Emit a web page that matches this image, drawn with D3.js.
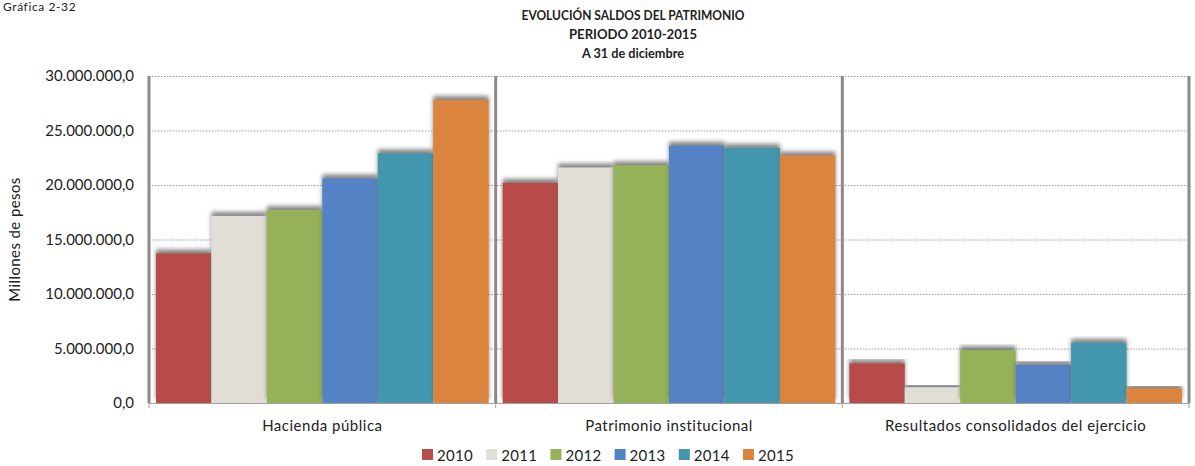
<!DOCTYPE html>
<html>
<head>
<meta charset="utf-8">
<script src="https://cdn.jsdelivr.net/npm/d3@7"></script>
<style>
  body { margin: 0; background: #fff; }
  svg text { font-family: Lato, "Open Sans", sans-serif; fill: #222; }
</style>
</head>
<body>
<div id="container"></div>
<script>
// saldos del patrimonio por año, millones de pesos

const categories = ["Hacienda pública", "Patrimonio institucional", "Resultados consolidados del ejercicio"];
const years = ["2010", "2011", "2012", "2013", "2014", "2015"];
const v2010 = [13730000, 20200000, 3640000];
const v2011 = [17160000, 21600000, 1440000];
const v2012 = [17700000, 21800000, 4860000];
const v2013 = [20600000, 23600000, 3490000];
const v2014 = [22900000, 23400000, 5530000];
const v2015 = [27800000, 22700000, 1350000];
const yTicks = [0, 5000000, 10000000, 15000000, 20000000, 25000000, 30000000];
const colors = ["#B84C4A", "#E1DFD5", "#95B258", "#5283C5", "#4297AF", "#DB843F"];

const series = [v2010, v2011, v2012, v2013, v2014, v2015];

const width = 1195, height = 466;
const margin = {left: 149, right: 6, top: 76, bottom: 63};

const svg = d3.select("#container").append("svg")
    .attr("width", width)
    .attr("height", height);

const defs = svg.append("defs");
const shadow = defs.append("filter")
    .attr("id", "shadow")
    .attr("x", "-10%").attr("y", "-10%")
    .attr("width", "120%").attr("height", "120%");
shadow.append("feDropShadow")
    .attr("dx", 0).attr("dy", -4)
    .attr("stdDeviation", 2)
    .attr("flood-color", "#666")
    .attr("flood-opacity", 0.8);

const x0 = d3.scaleBand()
    .domain(categories)
    .range([margin.left, width - margin.right])
    .paddingInner(0).paddingOuter(0);

const x1 = d3.scaleBand()
    .domain(years)
    .range([7, x0.bandwidth() - 7]);

const y = d3.scaleLinear()
    .domain([0, 30000000])
    .range([height - margin.bottom, margin.top]);

const fmt = v => d3.format(",.1f")(v).replace(/,/g, "#").replace(".", ",").replace(/#/g, ".");

// gridlines
svg.append("g")
    .selectAll("line")
    .data(yTicks.filter(d => d > 0))
    .enter().append("line")
    .attr("x1", margin.left).attr("x2", width - margin.right)
    .attr("y1", d => y(d) + 0.5).attr("y2", d => y(d) + 0.5)
    .attr("stroke", "#9a9a9a")
    .attr("stroke-dasharray", "1.5,1.5");

// bars
const groups = svg.append("g")
    .selectAll("g")
    .data(categories)
    .enter().append("g")
    .attr("transform", d => "translate(" + x0(d) + ",0)");

groups.selectAll("rect")
    .data((c, ci) => years.map((yr, i) => ({year: yr, value: series[i][ci], color: colors[i]})))
    .enter().append("rect")
    .attr("x", d => x1(d.year))
    .attr("width", x1.bandwidth())
    .attr("y", d => y(d.value))
    .attr("height", d => y(0) - y(d.value))
    .attr("fill", d => d.color)
    .attr("filter", "url(#shadow)");

// group dividers and left axis line
svg.append("g")
    .selectAll("line")
    .data(categories.map(c => x0(c)).concat([x0.range()[1]]))
    .enter().append("line")
    .attr("x1", d => d).attr("x2", d => d)
    .attr("y1", y(30000000)).attr("y2", y(0))
    .attr("stroke", "#8a8a8a")
    .attr("stroke-width", 3);

// bottom axis
const xAxis = svg.append("g");
xAxis.append("line")
    .attr("x1", margin.left).attr("x2", width - margin.right)
    .attr("y1", y(0) + 0.5).attr("y2", y(0) + 0.5)
    .attr("stroke", "#a0a0a0");
xAxis.selectAll("line.tick")
    .data(categories.map(c => x0(c)).concat([x0.range()[1]]))
    .enter().append("line")
    .attr("class", "tick")
    .attr("x1", d => d).attr("x2", d => d)
    .attr("y1", y(0)).attr("y2", y(0) + 5)
    .attr("stroke", "#a0a0a0");
xAxis.selectAll("text")
    .data(categories)
    .enter().append("text")
    .attr("x", d => x0(d) + x0.bandwidth() / 2)
    .attr("y", y(0) + 28)
    .attr("text-anchor", "middle")
    .attr("font-size", 15)
    .attr("letter-spacing", 0.5)
    .text(d => d);

// y tick labels
svg.append("g")
    .selectAll("text")
    .data(yTicks)
    .enter().append("text")
    .attr("x", 134)
    .attr("y", d => y(d) + 5)
    .attr("text-anchor", "end")
    .attr("font-size", 15)
    .text(fmt);

svg.append("text")
    .attr("transform", "translate(20," + ((y(0) + y(30000000)) / 2) + ") rotate(-90)")
    .attr("text-anchor", "middle")
    .attr("font-size", 15)
    .attr("letter-spacing", 0.4)
    .text("Millones de pesos");

// titles
svg.append("text")
    .attr("x", 3).attr("y", 11)
    .attr("font-size", 12)
    .attr("letter-spacing", 0.6)
    .text("Gráfica 2-32");

const titleLines = ["EVOLUCIÓN SALDOS DEL PATRIMONIO", "PERIODO 2010-2015", "A 31 de diciembre"];
const titleWidths = [223, 128, 102];
svg.append("g")
    .selectAll("text")
    .data(titleLines)
    .enter().append("text")
    .attr("x", 633)
    .attr("y", (d, i) => 20 + i * 19)
    .attr("text-anchor", "middle")
    .attr("font-size", 13.5)
    .attr("font-weight", "bold")
    .attr("textLength", (d, i) => titleWidths[i])
    .attr("lengthAdjust", "spacingAndGlyphs")
    .text(d => d);

// legend
const legend = svg.append("g")
    .selectAll("g")
    .data(years)
    .enter().append("g")
    .attr("transform", (d, i) => "translate(" + (422 + i * 64.2) + ",449)");
legend.append("rect")
    .attr("width", 11).attr("height", 11)
    .attr("fill", (d, i) => colors[i]);
legend.append("text")
    .attr("x", 15).attr("y", 11.5)
    .attr("font-size", 15)
    .attr("letter-spacing", 0.3)
    .text(d => d);
</script>
</body>
</html>
